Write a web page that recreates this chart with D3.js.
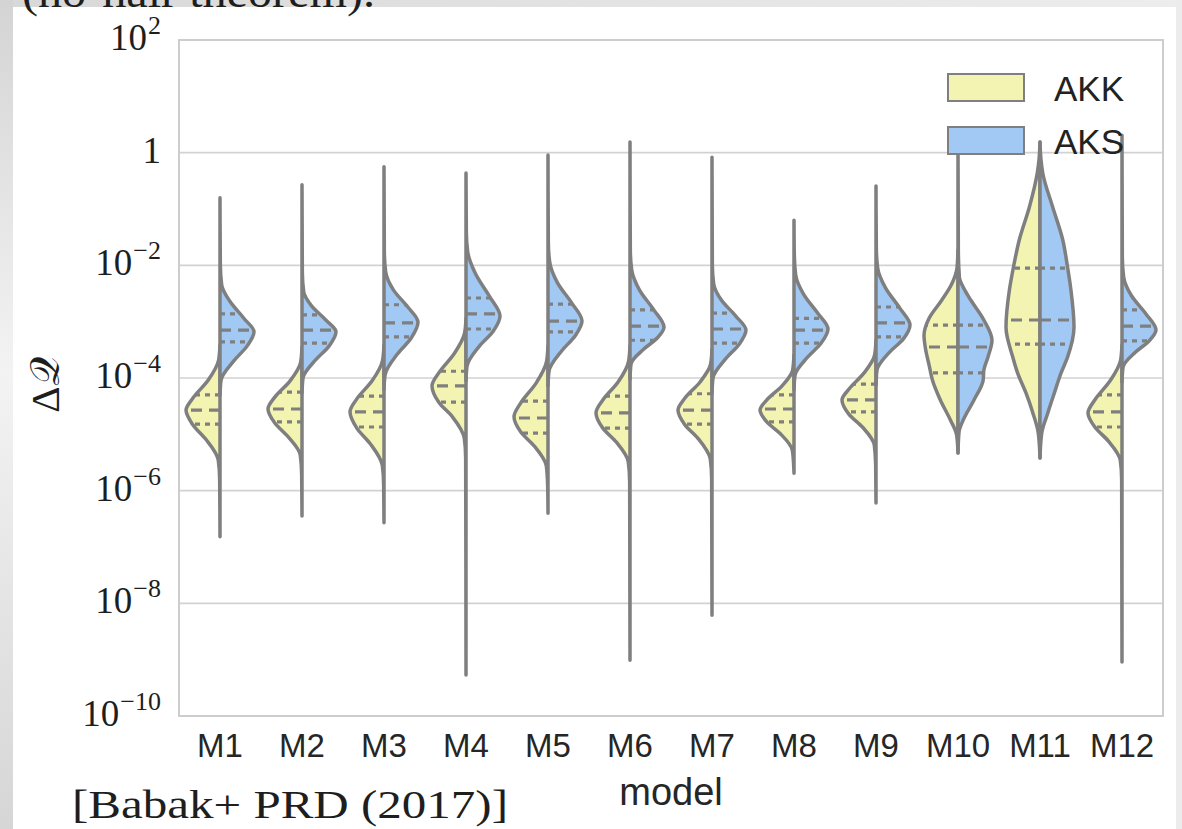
<!DOCTYPE html>
<html>
<head>
<meta charset="utf-8">
<script src="https://cdn.jsdelivr.net/npm/d3@7"></script>
<style>
  html, body { margin: 0; padding: 0; background: #e4e4e4; }
  svg { display: block; }
</style>
</head>
<body>
<svg id="chart" width="1182" height="829"></svg>
<script>
// ---- data -------------------------------------------------------------
const models = ["M1", "M2", "M3", "M4", "M5", "M6", "M7", "M8", "M9", "M10", "M11", "M12"];
const seriesNames = ["AKK", "AKS"];
const yTickValues = [1e-10, 1e-8, 1e-6, 1e-4, 1e-2, 1, 1e2];
const yTickExponents = ["−10", "−8", "−6", "−4", "−2", "", "2"];

// Density outlines for each half violin: [log10 ΔQ, relative density]
const akkProfiles = [
  [[-3.41,0],[-3.68,0.04],[-4.04,0.35],[-4.36,0.8],[-4.57,1],[-4.83,0.8],[-5.10,0.4],[-5.46,0.05],[-5.81,0.01],[-6.82,0]],
  [[-3.45,0],[-3.72,0.04],[-4.05,0.35],[-4.34,0.8],[-4.55,1],[-4.80,0.8],[-5.05,0.4],[-5.37,0.05],[-5.72,0.01],[-6.45,0]],
  [[-3.41,0],[-3.68,0.04],[-4.05,0.35],[-4.37,0.8],[-4.60,1],[-4.89,0.8],[-5.17,0.4],[-5.55,0.05],[-5.90,0.01],[-6.57,0]],
  [[-2.94,0],[-3.20,0.04],[-3.57,0.35],[-3.91,0.8],[-4.14,1],[-4.43,0.8],[-4.69,0.4],[-5.07,0.05],[-5.42,0.01],[-9.27,0]],
  [[-3.43,0],[-3.70,0.04],[-4.09,0.35],[-4.44,0.8],[-4.69,1],[-4.96,0.8],[-5.21,0.4],[-5.56,0.05],[-5.92,0.01],[-6.40,0]],
  [[-3.43,0],[-3.70,0.04],[-4.07,0.35],[-4.39,0.8],[-4.62,1],[-4.89,0.8],[-5.14,0.4],[-5.49,0.05],[-5.85,0.01],[-9.01,0]],
  [[-3.49,0],[-3.75,0.04],[-4.07,0.35],[-4.36,0.8],[-4.57,1],[-4.83,0.8],[-5.08,0.4],[-5.44,0.05],[-5.79,0.01],[-8.21,0]],
  [[-3.59,0],[-3.86,0.04],[-4.14,0.35],[-4.39,0.8],[-4.57,1],[-4.78,0.8],[-4.99,0.4],[-5.28,0.05],[-5.55,0.01],[-5.69,0]],
  [[-3.33,0],[-3.59,0.04],[-3.91,0.35],[-4.20,0.8],[-4.39,1],[-4.64,0.8],[-4.87,0.4],[-5.19,0.05],[-5.55,0.01],[-6.22,0]],
  [[-1.73,0],[-2.05,0.03],[-2.35,0.2],[-2.62,0.48],[-2.94,0.85],[-3.24,1],[-3.50,0.95],[-3.77,0.85],[-4.04,0.75],[-4.39,0.52],[-4.75,0.22],[-5.01,0.04],[-5.33,0]],
  [[0.19,0],[-0.13,0.03],[-0.36,0.08],[-0.96,0.31],[-1.55,0.61],[-2.03,0.78],[-2.44,0.9],[-3.10,1],[-3.63,0.8],[-3.91,0.66],[-4.27,0.41],[-4.62,0.21],[-4.98,0.05],[-5.42,0]],
  [[-3.41,0],[-3.68,0.04],[-4.05,0.35],[-4.39,0.8],[-4.62,1],[-4.87,0.8],[-5.12,0.4],[-5.46,0.05],[-5.81,0.01],[-9.04,0]]
];
const aksProfiles = [
  [[-0.80,0],[-1.99,0.01],[-2.35,0.05],[-2.63,0.28],[-2.94,0.7],[-3.18,1],[-3.43,0.8],[-3.70,0.4],[-4.04,0.03],[-4.30,0]],
  [[-0.57,0],[-2.12,0.01],[-2.47,0.05],[-2.72,0.28],[-2.97,0.7],[-3.18,1],[-3.43,0.8],[-3.68,0.4],[-4.00,0.03],[-4.27,0]],
  [[-0.25,0],[-1.76,0.01],[-2.12,0.05],[-2.44,0.28],[-2.74,0.7],[-3.01,1],[-3.29,0.8],[-3.57,0.4],[-3.95,0.03],[-4.21,0]],
  [[-0.36,0],[-1.41,0.01],[-1.76,0.05],[-2.15,0.28],[-2.56,0.7],[-2.90,1],[-3.17,0.8],[-3.43,0.4],[-3.79,0.03],[-4.05,0]],
  [[-0.04,0],[-1.59,0.01],[-1.94,0.05],[-2.31,0.28],[-2.67,0.7],[-2.99,1],[-3.25,0.8],[-3.52,0.4],[-3.88,0.03],[-4.14,0]],
  [[0.19,0],[-1.73,0.01],[-2.08,0.05],[-2.44,0.28],[-2.79,0.7],[-3.10,1],[-3.29,0.8],[-3.49,0.4],[-3.75,0.03],[-4.02,0]],
  [[-0.08,0],[-1.98,0.01],[-2.33,0.05],[-2.62,0.28],[-2.90,0.7],[-3.15,1],[-3.40,0.8],[-3.66,0.4],[-4.00,0.03],[-4.27,0]],
  [[-1.20,0],[-1.82,0.01],[-2.17,0.05],[-2.51,0.28],[-2.85,0.7],[-3.13,1],[-3.38,0.8],[-3.63,0.4],[-3.95,0.03],[-4.21,0]],
  [[-0.59,0],[-1.69,0.01],[-2.05,0.05],[-2.40,0.28],[-2.76,0.7],[-3.06,1],[-3.31,0.8],[-3.54,0.4],[-3.86,0.03],[-4.12,0]],
  [[0.14,0],[-1.73,0.01],[-2.21,0.04],[-2.44,0.2],[-2.62,0.38],[-2.97,0.76],[-3.33,1],[-3.63,0.88],[-3.86,0.76],[-4.04,0.74],[-4.39,0.47],[-4.75,0.15],[-4.96,0.03],[-5.33,0]],
  [[0.19,0],[-0.13,0.03],[-0.36,0.08],[-0.96,0.37],[-1.55,0.67],[-2.03,0.81],[-2.44,0.91],[-3.10,1],[-3.63,0.81],[-3.91,0.62],[-4.27,0.42],[-4.62,0.23],[-4.98,0.05],[-5.42,0]],
  [[0.31,0],[-1.85,0.01],[-2.21,0.05],[-2.54,0.28],[-2.86,0.7],[-3.15,1],[-3.34,0.8],[-3.54,0.4],[-3.81,0.03],[-4.07,0]]
];

// Quartiles in log10 ΔQ: [upper quartile, median, lower quartile]
const akkQuartiles = [
  [-4.30,-4.57,-4.82], [-4.25,-4.55,-4.78], [-4.32,-4.60,-4.87], [-3.88,-4.14,-4.43],
  [-4.41,-4.71,-4.98], [-4.32,-4.62,-4.89], [-4.28,-4.57,-4.82], [-4.30,-4.55,-4.78],
  [-4.11,-4.39,-4.60], [-3.06,-3.45,-3.91], [-2.05,-2.97,-3.40], [-4.30,-4.60,-4.87]
];
const aksQuartiles = [
  [-2.86,-3.15,-3.36], [-2.88,-3.15,-3.38], [-2.70,-3.02,-3.27], [-2.58,-2.86,-3.13],
  [-2.69,-2.99,-3.18], [-2.79,-3.08,-3.33], [-2.85,-3.13,-3.38], [-2.94,-3.15,-3.38],
  [-2.74,-3.02,-3.27], [-3.06,-3.45,-3.91], [-2.05,-2.97,-3.40], [-2.79,-3.08,-3.34]
];

// ---- layout & style ---------------------------------------------------
const W = 1182, H = 829;
const plot = { left: 179, right: 1163, top: 40, bottom: 716 };
const colors = { AKK: "#f4f4b2", AKS: "#a1c9f4" };
const edge = "#7f7f7f";
const halfWidthMax = 34;
const sansFont = "'Liberation Sans', Arial, sans-serif";
const serifFont = "'Liberation Serif', 'DejaVu Serif', serif";

const svg = d3.select("#chart");

// page backdrop
const defs = svg.append("defs");
const gLeft = defs.append("linearGradient").attr("id", "sideShade").attr("x1", 0).attr("y1", 0).attr("x2", 0).attr("y2", 1);
gLeft.append("stop").attr("offset", "0%").attr("stop-color", "#d4d4d4");
gLeft.append("stop").attr("offset", "45%").attr("stop-color", "#f3f3f3");
gLeft.append("stop").attr("offset", "100%").attr("stop-color", "#d6d6d6");
const gTop = defs.append("linearGradient").attr("id", "topShade").attr("x1", 0).attr("y1", 0).attr("x2", 1).attr("y2", 0);
gTop.append("stop").attr("offset", "0%").attr("stop-color", "#d8d8d8");
gTop.append("stop").attr("offset", "100%").attr("stop-color", "#ededed");

svg.append("rect").attr("width", W).attr("height", H).attr("fill", "url(#topShade)");
svg.append("rect").attr("x", 0).attr("y", 0).attr("width", 13).attr("height", H).attr("fill", "url(#sideShade)");
svg.append("rect").attr("x", 1176).attr("y", 0).attr("width", 6).attr("height", H).attr("fill", "#ececec");
svg.append("rect").attr("x", 13).attr("y", 7).attr("width", 1163).attr("height", H - 7).attr("fill", "#ffffff");

// heading line of the slide, mostly out of frame
svg.append("text")
  .attr("x", 22).attr("y", 7)
  .attr("font-family", serifFont)
  .attr("font-size", 44).attr("fill", "#1e1e1e")
  .attr("textLength", 353).attr("lengthAdjust", "spacingAndGlyphs")
  .text("(no-hair theorem).");

// scales
const x = d3.scaleBand().domain(models).range([plot.left, plot.right]).padding(0);
const y = d3.scaleLog().domain([1e-10, 1e2]).range([plot.bottom, plot.top]);
const wScale = d3.scaleLinear().domain([0, 1]).range([0, halfWidthMax]);
const center = m => x(m) + x.bandwidth() / 2;

// grid
const grid = svg.append("g");
grid.selectAll("line").data(yTickValues).join("line")
  .attr("x1", plot.left).attr("x2", plot.right)
  .attr("y1", d => y(d)).attr("y2", d => y(d))
  .attr("stroke", "#d2d2d2").attr("stroke-width", 1.6);

// frame
svg.append("rect")
  .attr("x", plot.left).attr("y", plot.top)
  .attr("width", plot.right - plot.left).attr("height", plot.bottom - plot.top)
  .attr("fill", "none").attr("stroke", "#cdcdcd").attr("stroke-width", 2);

// y axis labels (powers of ten)
const yAxis = d3.axisLeft(y).tickValues(yTickValues).tickSize(0).tickFormat("");
const yAxisG = svg.append("g").attr("transform", `translate(${plot.left},0)`).call(yAxis);
yAxisG.select(".domain").remove();
const yLab = svg.append("g")
  .attr("font-family", serifFont)
  .attr("fill", "#1e1e1e");
yTickValues.forEach((v, i) => {
  const t = yLab.append("text")
    .attr("x", 161).attr("y", y(v) + 10)
    .attr("text-anchor", "end")
    .attr("font-size", 37);
  if (yTickExponents[i] === "") {
    t.text("1");
  } else {
    t.append("tspan").text("10");
    t.append("tspan").attr("dx", 1).attr("dy", -16).attr("font-size", 26).text(yTickExponents[i]);
  }
});

// x axis labels
const xAxis = d3.axisBottom(x).tickSize(0).tickPadding(0);
const xAxisG = svg.append("g").attr("transform", `translate(0,${plot.bottom})`).call(xAxis);
xAxisG.select(".domain").remove();
xAxisG.selectAll("text")
  .attr("y", 41).attr("dy", 0)
  .attr("font-family", sansFont)
  .attr("font-size", 33).attr("fill", "#262626");

// axis titles
svg.append("text")
  .attr("x", (plot.left + plot.right) / 2).attr("y", 805)
  .attr("text-anchor", "middle")
  .attr("font-family", sansFont)
  .attr("font-size", 38).attr("fill", "#262626")
  .text("model");

svg.append("text")
  .attr("transform", "translate(59,385) rotate(-90)")
  .attr("text-anchor", "middle")
  .attr("font-family", serifFont)
  .attr("font-size", 41).attr("fill", "#1e1e1e")
  .text("Δ𝒬");

// violins
const halfArea = (cx, side) => d3.area()
  .curve(d3.curveMonotoneY)
  .y(d => y(Math.pow(10, d[0])))
  .x0(cx)
  .x1(d => cx + side * wScale(d[1]));

function widthAt(profile, L) {
  for (let i = 0; i < profile.length - 1; i++) {
    const a = profile[i], b = profile[i + 1];
    if (L <= a[0] && L >= b[0]) {
      const t = (a[0] - L) / (a[0] - b[0]);
      return a[1] + t * (b[1] - a[1]);
    }
  }
  return 0;
}

const violins = svg.append("g");
models.forEach((m, i) => {
  const cx = center(m);
  const halves = [
    { name: "AKK", side: -1, profile: akkProfiles[i], q: akkQuartiles[i] },
    { name: "AKS", side: 1, profile: aksProfiles[i], q: aksQuartiles[i] }
  ];
  const g = violins.append("g");
  halves.forEach(h => {
    g.append("path")
      .attr("d", halfArea(cx, h.side)(h.profile))
      .attr("fill", colors[h.name])
      .attr("stroke", edge).attr("stroke-width", 3.5)
      .attr("stroke-linejoin", "round");
  });
  halves.forEach(h => {
    h.q.forEach((L, k) => {
      const w = wScale(widthAt(h.profile, L));
      const yy = y(Math.pow(10, L));
      g.append("line")
        .attr("x1", cx).attr("x2", cx + h.side * w)
        .attr("y1", yy).attr("y2", yy)
        .attr("stroke", edge).attr("stroke-width", 3.2)
        .attr("stroke-dasharray", k === 1 ? "11,7" : "5,5");
    });
  });
});

// legend
const legend = svg.append("g");
seriesNames.forEach((s, i) => {
  legend.append("rect")
    .attr("x", 948).attr("y", 74 + i * 53)
    .attr("width", 76).attr("height", 27)
    .attr("fill", colors[s]).attr("stroke", edge).attr("stroke-width", 2);
  legend.append("text")
    .attr("x", 1054).attr("y", 101 + i * 53)
    .attr("font-family", sansFont)
    .attr("font-size", 35).attr("fill", "#222")
    .text(s);
});

// citation
svg.append("text")
  .attr("x", 72).attr("y", 818)
  .attr("font-family", serifFont)
  .attr("font-size", 40).attr("fill", "#1e1e1e")
  .attr("textLength", 436).attr("lengthAdjust", "spacingAndGlyphs")
  .text("[Babak+ PRD (2017)]");
</script>
</body>
</html>
